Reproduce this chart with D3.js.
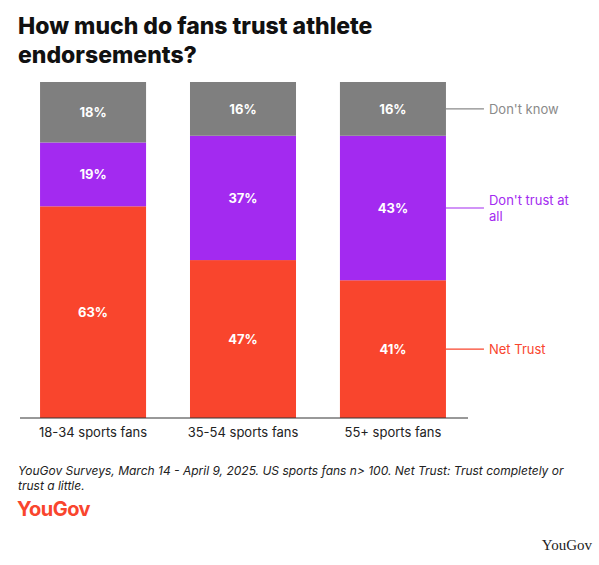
<!DOCTYPE html>
<html><head><meta charset="utf-8">
<script src="https://cdn.jsdelivr.net/npm/d3@7"></script>
<style>body{margin:0;background:#fff;font-family:Inter,"Noto Sans",sans-serif}</style>
</head><body>
<svg id="chart" width="599" height="565"></svg>
<script>
var categories = ["18-34 sports fans", "35-54 sports fans", "55+ sports fans"];
var seriesNames = ["Net Trust", "Don't trust at all", "Don't know"];
var netTrust = [63, 47, 41];
var dontTrust = [19, 37, 43];
var dontKnow = [18, 16, 16];
var colors = ["#f9452d", "#a32af0", "#7f7f7f"];
var labelColors = ["#f9452d", "#a32af0", "#8a8a8a"];

var rows = categories.map((c, i) => ({cat: c, "Net Trust": netTrust[i], "Don't trust at all": dontTrust[i], "Don't know": dontKnow[i]}));
var stack = d3.stack().keys(seriesNames)(rows);

var svg = d3.select("#chart");
svg.append("text").attr("x", 18).attr("y", 34).attr("font-size", 23).attr("font-weight", 800).attr("fill", "#111").text("How much do fans trust athlete");
svg.append("text").attr("x", 18).attr("y", 63).attr("font-size", 23).attr("font-weight", 800).attr("fill", "#111").text("endorsements?");

var x = d3.scaleBand().domain(categories).range([15, 471]).paddingInner(0.293).paddingOuter(0.167);
var y = d3.scaleLinear().domain([0, 100]).range([418, 82]);

stack.forEach((s, si) => {
  var g = svg.append("g");
  g.selectAll("rect").data(s).enter().append("rect")
    .attr("x", d => x(d.data.cat)).attr("width", x.bandwidth())
    .attr("y", d => y(d[1])).attr("height", d => y(d[0]) - y(d[1]))
    .attr("fill", colors[si]);
  g.selectAll("text").data(s).enter().append("text")
    .attr("x", d => x(d.data.cat) + x.bandwidth() / 2)
    .attr("y", d => (y(d[0]) + y(d[1])) / 2 + 5)
    .attr("text-anchor", "middle").attr("font-size", 13).attr("font-weight", 700).attr("fill", "#fff")
    .text(d => (d[1] - d[0]) + "%");
  var last = s[s.length - 1];
  var ly = (y(last[0]) + y(last[1])) / 2;
  var xr = x(categories[2]) + x.bandwidth();
  svg.append("line").attr("x1", xr).attr("x2", xr + 38).attr("y1", ly).attr("y2", ly).attr("stroke", labelColors[si]).attr("stroke-width", 1.2);
  var t = svg.append("text").attr("x", xr + 43).attr("font-size", 13).attr("fill", labelColors[si]);
  if (si === 1) {
    t.attr("y", ly - 3).append("tspan").text("Don't trust at");
    t.append("tspan").attr("x", xr + 43).attr("dy", 16).text("all");
  } else {
    t.attr("y", ly + 5).text(seriesNames[si]);
  }
});

var axis = svg.append("g").attr("transform", "translate(0,418)").call(d3.axisBottom(x).tickSize(0).tickPadding(10));
axis.select(".domain").attr("stroke", "#333").attr("d", "M20,0H468");
axis.selectAll("text").attr("font-size", 13).attr("fill", "#222").attr("font-family", "Inter,'Noto Sans',sans-serif");

svg.append("text").attr("x", 18).attr("y", 475).attr("font-size", 12).attr("font-style", "italic").attr("fill", "#222").text("YouGov Surveys, March 14 - April 9, 2025. US sports fans n> 100. Net Trust: Trust completely or");
svg.append("text").attr("x", 18).attr("y", 490).attr("font-size", 12).attr("font-style", "italic").attr("fill", "#222").text("trust a little.");
svg.append("text").attr("x", 17).attr("y", 516).attr("font-size", 20).attr("font-weight", 700).attr("fill", "#f9452d").attr("letter-spacing", -0.5).text("YouGov");
svg.append("text").attr("x", 592).attr("y", 550).attr("text-anchor", "end").attr("font-size", 15).attr("font-family", "'Liberation Serif','DejaVu Serif',serif").attr("fill", "#222").text("YouGov");
</script>
</body></html>
